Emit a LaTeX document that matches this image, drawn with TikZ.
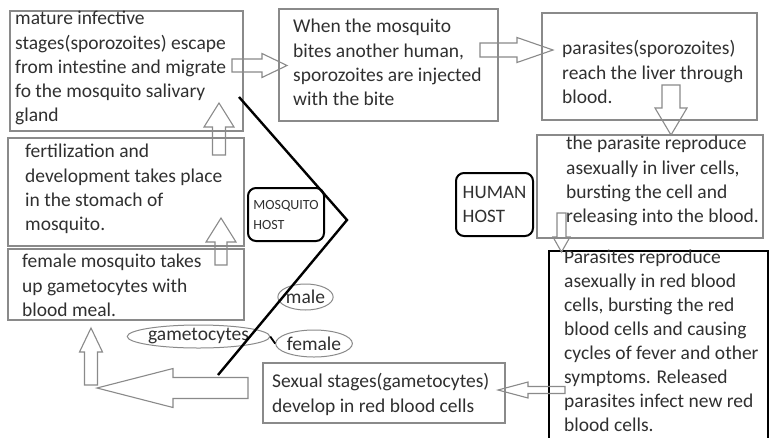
\documentclass[tikz,border=0pt]{standalone}
\usepackage{fontspec}
\setmainfont{Carlito}
\usetikzlibrary{calc,shapes.geometric}
\definecolor{ink}{HTML}{303030}
\definecolor{rulegray}{HTML}{8A8A8A}
\newcommand{\bodysize}{\fontsize{19.5}{24.3}\selectfont}
% hollow block arrow from #2 (tail) to #3 (tip):
% #4 shaft half width, #5 head half width, #6 head length
\newcommand{\blockarrow}[6][]{%
  \coordinate (ba-base) at ($(#3)!#6!(#2)$);
  \draw[blockarr,#1] ($(#2)!#4!90:(#3)$) -- ($(ba-base)!#4!90:(#3)$)
    -- ($(ba-base)!#5!90:(#3)$) -- (#3) -- ($(ba-base)!#5!-90:(#3)$)
    -- ($(ba-base)!#4!-90:(#3)$) -- ($(#2)!#4!-90:(#3)$) -- cycle;}
\begin{document}
\begin{tikzpicture}[x=1pt,y=-1pt,
  stagebox/.style={draw=rulegray, line width=1.1pt, anchor=north west, inner sep=0pt, outer sep=0pt},
  stagetext/.style={anchor=north west, inner sep=0pt, align=left, text=ink, font=\bodysize},
  hostbox/.style={draw=black, line width=2pt, rounded corners=8pt, anchor=north west, inner sep=0pt, align=left, text=ink},
  cellshape/.style={ellipse, draw=rulegray, line width=1pt, inner sep=0pt, text=ink, font=\bodysize},
  blockarr/.style={draw=rulegray, line width=1.1pt, line join=miter},
  bracket/.style={draw=black, line width=2.4pt, line join=miter}]
\clip (0,0) rectangle (770,437);
\fill[white] (0,0) rectangle (770,437);

% stage boxes
\node[stagebox, minimum width=233pt, minimum height=120pt] (b1) at (10,11) {};
\node[stagebox, minimum width=219pt, minimum height=112pt] (b2) at (279,9) {};
\node[stagebox, minimum width=215pt, minimum height=107pt] (b3) at (542,13) {};
\node[stagebox, minimum width=226pt, minimum height=103pt] (b4) at (537,135) {};
\node[stagebox, draw=black, line width=2.5pt, minimum width=219pt, minimum height=209pt] (b5) at (549,251) {};
\node[stagebox, minimum width=242pt, minimum height=60pt] (b6) at (263,363) {};
\node[stagebox, minimum width=236pt, minimum height=71pt] (b7) at (8,249) {};
\node[stagebox, minimum width=236pt, minimum height=108pt] (b8) at (8,138) {};

% stage texts
\node[stagetext] (t1) at (15,7.5) {\strut mature infective\\stages(sporozoites) escape\\from intestine and migrate\\fo the mosquito salivary\\gland};
\node[stagetext] (t2) at (293,15.5) {\strut When the mosquito\\bites another human,\\sporozoites are injected\\with the bite};
\node[stagetext] (t3) at (562,37.5) {\strut parasites(sporozoites)\\reach the liver through\\blood.};
\node[stagetext] (t4) at (566,132.5) {\strut the parasite reproduce\\asexually in liver cells,\\bursting the cell and\\releasing into the blood.};
\node[stagetext, font=\fontsize{19.5}{24}\selectfont] (t5) at (564,246.5) {\strut Parasites reproduce\\asexually in red blood\\cells, bursting the red\\blood cells and causing\\cycles of fever and other\\symptoms. Released\\parasites infect new red\\blood cells.};
\node[stagetext] (t6) at (272,370.5) {\strut Sexual stages(gametocytes)\\develop in red blood cells};
\node[stagetext] (t7) at (22,250.5) {\strut female mosquito takes\\up gametocytes with\\blood meal.};
\node[stagetext] (t8) at (25,140.5) {\strut fertilization and\\development takes place\\in the stomach of\\mosquito.};

% hosts
\node[hostbox, minimum width=76pt, minimum height=53pt, font=\fontsize{14}{20}\selectfont] (mhost) at (247,187) {MOSQUITO\\HOST};
\node[hostbox, minimum width=77pt, minimum height=63pt, font=\fontsize{19}{24}\selectfont] (hhost) at (455,172) {HUMAN\\HOST};

% gametocytes
\node[cellshape, minimum width=137pt, minimum height=23pt] (gam) at (198.5,336.5) {gametocytes};
\node[cellshape, minimum width=55pt, minimum height=26pt] (male) at (305.5,297) {male};
\node[cellshape, minimum width=62pt, minimum height=27pt] (fem) at (314,343.5) {female};
\draw[black, line width=1.8pt] (gam.east) -- (fem.west);

% mosquito-host bracket
\coordinate (br1) at (239,97);
\coordinate (brapex) at (347,220);
\coordinate (br2) at (218,375);
\draw[bracket] (br1) -- (brapex) -- (br2);

% block arrows of the cycle
\coordinate (a1t) at (232,65.5);  \coordinate (a1h) at (287,65.5);
\coordinate (a2t) at (480,50);    \coordinate (a2h) at (553,50);
\coordinate (a3t) at (671,85);    \coordinate (a3h) at (671,135);
\coordinate (a4t) at (561.5,213); \coordinate (a4h) at (561.5,252);
\coordinate (a5t) at (565,390);   \coordinate (a5h) at (498,390);
\coordinate (a6t) at (248,388);   \coordinate (a6h) at (97,388);
\coordinate (a7t) at (91,385);    \coordinate (a7h) at (91,328);
\coordinate (a8t) at (221,265);   \coordinate (a8h) at (221,218);
\coordinate (a9t) at (219,155);   \coordinate (a9h) at (219,103);
\blockarrow{a1t}{a1h}{6.5pt}{12pt}{25pt}
\blockarrow{a2t}{a2h}{7pt}{12.5pt}{36pt}
\blockarrow{a3t}{a3h}{9pt}{16pt}{27pt}
\blockarrow{a4t}{a4h}{4.5pt}{8.5pt}{15pt}
\blockarrow{a5t}{a5h}{3.5pt}{8pt}{30pt}
\blockarrow{a6t}{a6h}{10.5pt}{19.5pt}{76pt}
\blockarrow{a7t}{a7h}{6.5pt}{11.5pt}{24pt}
\blockarrow{a8t}{a8h}{6pt}{15pt}{24pt}
\blockarrow{a9t}{a9h}{6.5pt}{15pt}{24pt}
\end{tikzpicture}
\end{document}
